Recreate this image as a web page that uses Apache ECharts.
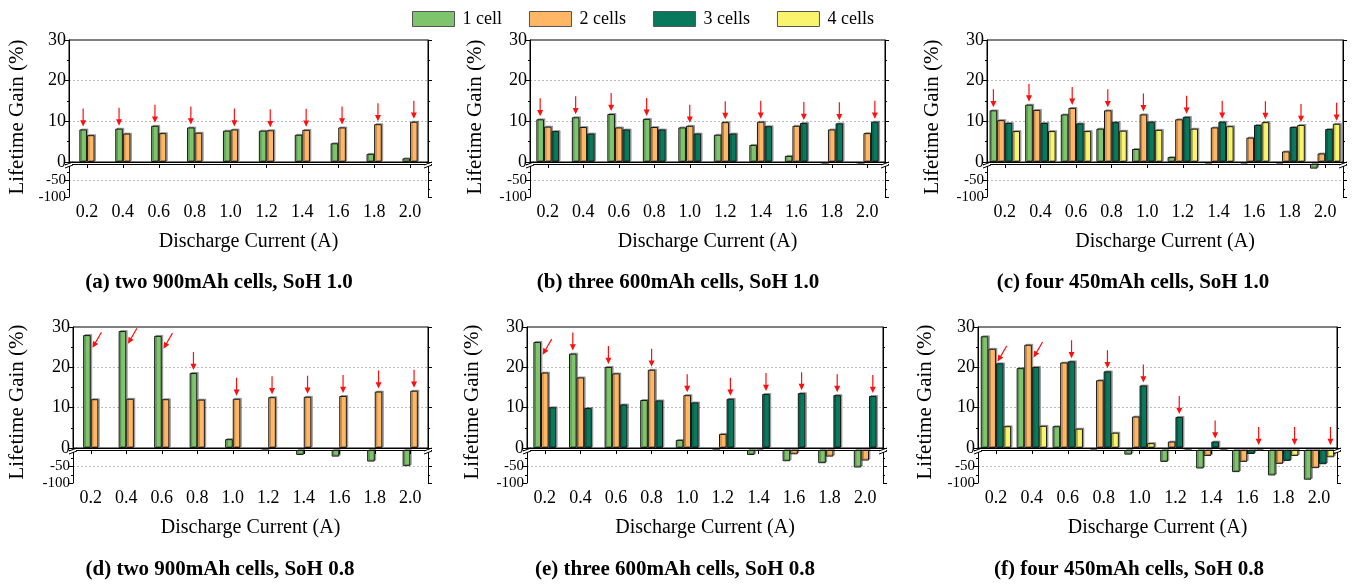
<!DOCTYPE html>
<html>
<head>
<meta charset="utf-8">
<script src="https://cdn.jsdelivr.net/npm/echarts@6/dist/echarts.min.js"></script>
<style>html,body{margin:0;background:#fff}#main{width:1355px;height:584px}</style>
</head>
<body>
<div id="main"></div>
<script>
var currents = ['0.2', '0.4', '0.6', '0.8', '1.0', '1.2', '1.4', '1.6', '1.8', '2.0'];
var cellNames = ['1 cell', '2 cells', '3 cells', '4 cells'];
var colors = ['#7DC46C', '#FFB766', '#08795D', '#F8F46C'];

// (a) two 900mAh cells, SoH 1.0
var a1 = [8.0, 8.2, 8.9, 8.5, 7.7, 7.7, 6.7, 4.6, 2.0, 0.9];
var a2 = [6.6, 7.0, 7.1, 7.2, 8.0, 7.8, 7.9, 8.5, 9.3, 9.9];
var aBest = [0, 0, 0, 0, 1, 1, 1, 1, 1, 1];
var aTilt = [0, 0, 0, 0, 0, 0, 0, 0, 0, 0];

// (b) three 600mAh cells, SoH 1.0
var b1 = [10.5, 11.0, 11.8, 10.6, 8.5, 6.7, 4.2, 1.5, -2, -2];
var b2 = [8.7, 8.6, 8.5, 8.6, 8.9, 9.8, 9.9, 8.9, 8.0, 7.1];
var b3 = [7.6, 7.0, 8.0, 8.0, 7.0, 7.0, 8.8, 9.6, 9.5, 9.9];
var bBest = [0, 0, 0, 0, 1, 1, 1, 2, 2, 2];
var bTilt = [0, 0, 0, 0, 0, 0, 0, 0, 0, 0];

// (c) four 450mAh cells, SoH 1.0
var c1 = [12.7, 14.1, 11.7, 8.2, 3.2, 1.2, -3, -3, -3, -14];
var c2 = [10.3, 12.8, 13.3, 12.7, 11.7, 10.5, 8.5, 6.0, 2.6, 2.1];
var c3 = [9.6, 9.6, 9.5, 9.8, 9.9, 11.1, 9.9, 9.1, 8.6, 8.1];
var c4 = [7.6, 7.6, 7.6, 7.7, 7.9, 8.2, 8.8, 9.8, 9.1, 9.4];
var cBest = [0, 0, 1, 1, 1, 2, 2, 3, 3, 3];
var cTilt = [0, 0, 0, 0, 0, 0, 0, 0, 0, 0];

// (d) two 900mAh cells, SoH 0.8
var d1 = [28.0, 29.0, 27.8, 18.6, 2.2, -2, -15, -20, -35, -49];
var d2 = [12.1, 12.2, 12.1, 12.0, 12.2, 12.6, 12.7, 12.9, 14.0, 14.2];
var dBest = [0, 0, 0, 0, 1, 1, 1, 1, 1, 1];
var dTilt = [1, 1, 1, 0, 0, 0, 0, 0, 0, 0];

// (e) three 600mAh cells, SoH 0.8
var e1 = [26.3, 23.4, 20.1, 11.9, 2.0, -2, -15, -34, -40, -53];
var e2 = [18.7, 17.5, 18.5, 19.4, 13.1, 3.5, -3, -13, -20, -32];
var e3 = [10.1, 9.9, 10.8, 11.8, 11.3, 12.2, 13.4, 13.6, 13.1, 12.9];
var eBest = [0, 0, 0, 1, 1, 2, 2, 2, 2, 2];
var eTilt = [1, 0, 0, 0, 0, 0, 0, 0, 0, 0];

// (f) four 450mAh cells, SoH 0.8
var f1 = [27.7, 19.8, 5.4, -3, -14, -36, -56, -67, -77, -90];
var f2 = [24.6, 25.6, 21.2, 16.8, 7.8, 1.6, -18, -36, -42, -55];
var f3 = [21.0, 20.1, 21.5, 19.0, 15.5, 7.7, 1.6, -12, -33, -43];
var f4 = [5.4, 5.5, 4.8, 3.8, 1.2, -2, -2, -2, -18, -22];
var fBest = [1, 1, 2, 2, 2, 2, 2, 3, 3, 3];
var fTilt = [1, 1, 0, 0, 0, 0, 0, 0, 0, 0];

var upperTicks = [0, 30, 10];
var lowerTicks = [-100, 0, 50];

var serif = '"Liberation Serif", "DejaVu Serif", serif';
var rows = [
	{ top: 40, zero: 162, bottom: 197, name: 242, caption: 283, title: 117 },
	{ top: 327, zero: 448, bottom: 483, name: 528, caption: 570, title: 402 }
];
var panels = [
	{ data: [a1, a2], best: aBest, tilt: aTilt, row: 0, x0: 69, x1: 428, tx: 17, cx: 219, caption: '(a) two 900mAh cells, SoH 1.0' },
	{ data: [b1, b2, b3], best: bBest, tilt: bTilt, row: 0, x0: 530, x1: 885, tx: 475, cx: 678, caption: '(b) three 600mAh cells, SoH 1.0' },
	{ data: [c1, c2, c3, c4], best: cBest, tilt: cTilt, row: 0, x0: 987, x1: 1343, tx: 932, cx: 1133, caption: '(c) four 450mAh cells, SoH 1.0' },
	{ data: [d1, d2], best: dBest, tilt: dTilt, row: 1, x0: 73, x1: 428, tx: 17, cx: 220, caption: '(d) two 900mAh cells, SoH 0.8' },
	{ data: [e1, e2, e3], best: eBest, tilt: eTilt, row: 1, x0: 527, x1: 883, tx: 472, cx: 675, caption: '(e) three 600mAh cells, SoH 0.8' },
	{ data: [f1, f2, f3, f4], best: fBest, tilt: fTilt, row: 1, x0: 978, x1: 1337, tx: 925, cx: 1129, caption: '(f) four 450mAh cells, SoH 0.8' }
];

var arrowPath = 'path://M4,0 L6,0 L6,13 L10,13 L5,20 L0,13 L4,13 Z';
var dash = { color: '#bbb', type: [2, 2], width: 1 };
var black = { color: '#000', width: 1 };

var grids = [], xAxes = [], yAxes = [], series = [], graphics = [];

function yAxisFor(gi, ticks, side, labelSize, isLower) {
	return {
		type: 'value', gridIndex: gi, position: side,
		min: ticks[0], max: ticks[1], interval: ticks[2],
		axisLine: { show: true, lineStyle: black },
		axisTick: { show: true, length: 4, lineStyle: black },
		minorTick: { show: true, splitNumber: 2, length: 2, lineStyle: black },
		axisLabel: {
			show: side == 'left', color: '#000', fontFamily: serif, fontSize: labelSize,
			margin: 3, showMaxLabel: !isLower
		},
		splitLine: { show: side == 'left', lineStyle: dash, showMinLine: false, showMaxLine: false }
	};
}

panels.forEach(function(p, pi) {
	var r = rows[p.row];
	var w = p.x1 - p.x0;
	var gi = grids.length;
	grids.push({ left: p.x0, top: r.top, width: w, height: r.zero - r.top, show: true, borderColor: '#000', borderWidth: 1 });
	grids.push({ left: p.x0, top: r.zero + 2, width: w, height: r.bottom - r.zero - 2 });

	xAxes.push({
		type: 'category', gridIndex: gi, data: currents,
		axisLine: { show: true, lineStyle: black }, axisTick: { show: false }, axisLabel: { show: false }
	});
	xAxes.push({
		type: 'category', gridIndex: gi + 1, data: currents,
		axisLine: { show: true, lineStyle: black },
		axisTick: { show: true, alignWithLabel: true, length: 4, lineStyle: black },
		axisLabel: { color: '#000', fontFamily: serif, fontSize: 18, margin: 6 }
	});
	var yi = yAxes.length;
	yAxes.push(yAxisFor(gi, upperTicks, 'left', 18, false));
	yAxes.push(yAxisFor(gi, upperTicks, 'right', 18, false));
	yAxes.push(yAxisFor(gi + 1, lowerTicks, 'left', 15, true));
	yAxes.push(yAxisFor(gi + 1, lowerTicks, 'right', 15, true));

	p.data.forEach(function(vals, k) {
		var style = {
			color: colors[k], borderColor: '#1a1a1a', borderWidth: 1,
			shadowColor: 'rgba(0,0,0,0.3)', shadowBlur: 0, shadowOffsetX: 1.5, shadowOffsetY: -1
		};
		var marks = [];
		p.best.forEach(function(b, i) {
			if (b !== k) return;
			var tilted = p.tilt[i] == 1;
			marks.push({
				coord: [currents[i], Math.max(vals[i], 0)],
				symbolRotate: tilted ? -30 : 0,
				symbolOffset: tilted ? [10, 5] : [0, -12]
			});
		});
		series.push({
			name: cellNames[k], type: 'bar', xAxisIndex: gi, yAxisIndex: yi,
			data: vals, barWidth: 7.6, barGap: '0%', clip: true, itemStyle: style,
			markPoint: {
				symbol: arrowPath, symbolSize: [6, 18], symbolKeepAspect: false,
				label: { show: false },
				itemStyle: { color: '#FF1010', borderWidth: 0 },
				data: marks
			}
		});
		series.push({
			name: cellNames[k], type: 'bar', xAxisIndex: gi + 1, yAxisIndex: yi + 2,
			data: vals, barWidth: 7.6, barGap: '0%', clip: true, itemStyle: style
		});
	});

	// axis break marks on both sides
	[p.x0, p.x1].forEach(function(x) {
		graphics.push({ type: 'rect', z: 100, shape: { x: x - 3, y: r.zero + 1, width: 6, height: 3 }, style: { fill: '#fff' } });
		graphics.push({ type: 'line', z: 101, shape: { x1: x - 4, y1: r.zero + 3, x2: x + 4, y2: r.zero }, style: { stroke: '#000', lineWidth: 1 } });
		graphics.push({ type: 'line', z: 101, shape: { x1: x - 4, y1: r.zero + 6, x2: x + 4, y2: r.zero + 3 }, style: { stroke: '#000', lineWidth: 1 } });
	});

	graphics.push({
		type: 'text', z: 100, x: p.tx, y: r.title, rotation: Math.PI / 2,
		style: { text: 'Lifetime Gain (%)', fill: '#000', font: '21px ' + serif, textAlign: 'center', textVerticalAlign: 'middle' }
	});
	graphics.push({
		type: 'text', z: 100, x: (p.x0 + p.x1) / 2, y: r.name,
		style: { text: 'Discharge Current (A)', fill: '#000', font: '20px ' + serif, textAlign: 'center', textVerticalAlign: 'middle' }
	});
	graphics.push({
		type: 'text', z: 100, x: p.cx, y: r.caption,
		style: { text: p.caption, fill: '#000', font: 'bold 21px ' + serif, textAlign: 'center', textVerticalAlign: 'middle' }
	});
});

var chart = echarts.init(document.getElementById('main'));
chart.setOption({
	animation: false,
	legend: {
		data: cellNames, left: 407, top: 5, itemWidth: 42, itemHeight: 15, itemGap: 27,
		icon: 'rect',
		itemStyle: { borderColor: '#555', borderWidth: 1, shadowBlur: 0, shadowOffsetX: 0, shadowOffsetY: 0 },
		textStyle: { color: '#000', fontFamily: serif, fontSize: 18, padding: [0, 0, 0, 3] }
	},
	grid: grids,
	xAxis: xAxes,
	yAxis: yAxes,
	series: series,
	graphic: graphics
});
</script>
</body>
</html>
